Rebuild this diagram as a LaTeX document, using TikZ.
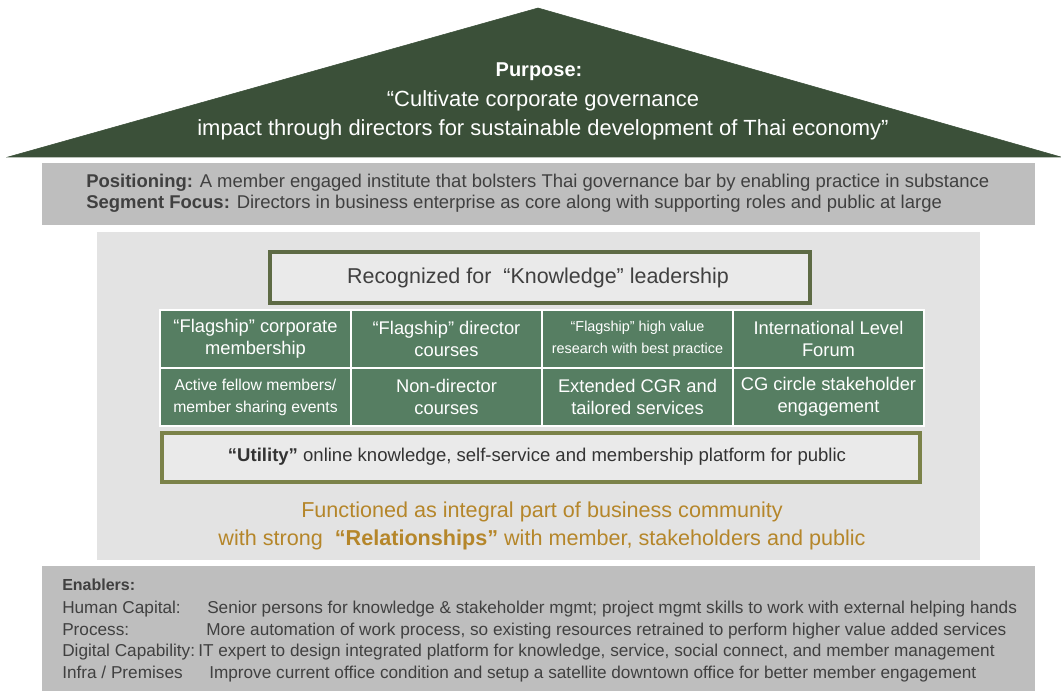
\documentclass[tikz,border=0pt]{standalone}
\usepackage{fontspec}
\setmainfont{Liberation Sans}
\usepackage{xcolor}
\definecolor{roofgreen}{HTML}{3B5039}
\definecolor{bandgray}{HTML}{BEBEBE}
\definecolor{panelgray}{HTML}{E3E3E3}
\definecolor{boxgray}{HTML}{EAEAEA}
\definecolor{cellgreen}{HTML}{567E62}
\definecolor{olivedark}{HTML}{5E6B45}
\definecolor{olivelight}{HTML}{7B8249}
\definecolor{goldtext}{HTML}{B5862A}
\definecolor{inkgray}{HTML}{404040}

\tikzset{
  cell/.style={draw=white, line width=1.5pt, fill=cellgreen, text=white,
    minimum width=143.25pt, minimum height=43.5pt, inner sep=0pt,
    align=center, font=\fontsize{13.75}{16.5}\selectfont},
  smallcell/.style={cell, font=\fontsize{10.8}{16.5}\selectfont},
  enabler/.style={anchor=base west, inner sep=0pt, text=inkgray,
    font=\fontsize{12.9}{15}\selectfont}
}

\begin{document}
\begin{tikzpicture}[x=0.75pt,y=0.75pt,yscale=-1,xscale=1]
\path [use as bounding box] (0,0) rectangle (1061,691);

%Shape: Triangle [roof]
\draw [fill=roofgreen, draw=roofgreen] (538,8) -- (1061,157) -- (8,157) -- cycle ;
%Shape: Rectangle [positioning band]
\fill [bandgray] (42,163) rectangle (1035,225) ;
%Shape: Rectangle [middle panel]
\fill [panelgray] (97,232) rectangle (980,560) ;
%Shape: Rectangle [enablers band]
\fill [bandgray] (42,566) rectangle (1035,691) ;

% Text Node
\draw (539,72) node [inner sep=0pt, text=white, font=\bfseries\fontsize{15}{18}\selectfont] (purpose) {Purpose:};
% Text Node
\draw (543,115) node [inner sep=0pt, text=white, align=center, font=\fontsize{16.45}{21.6}\selectfont] (mission) {“Cultivate corporate governance\\impact through directors for sustainable development of Thai economy”};

% Text Node
\draw (86,188) node [anchor=base west, inner sep=0pt, text=inkgray, font=\fontsize{13.85}{15}\selectfont] (positioning) {\textbf{Positioning:} A member engaged institute that bolsters Thai governance bar by enabling practice in substance};
% Text Node
\draw (86,209) node [anchor=base west, inner sep=0pt, text=inkgray, font=\fontsize{13.85}{15}\selectfont] (segment) {\textbf{Segment Focus:} Directors in business enterprise as core along with supporting roles and public at large};

%Shape: Rectangle [knowledge box]
\draw [draw=olivedark, line width=3pt, fill=boxgray] (270,252) rectangle (810,303) ;
% Text Node
\draw (538,278) node [inner sep=0pt, text=inkgray, font=\fontsize{16.1}{18}\selectfont] (knowledge) {Recognized for \ “Knowledge” leadership};

% Grid cells
\node [cell] (flagcorp) at (255.5,339) {“Flagship” corporate\\membership};
\node [cell] (flagdir) at (446.5,339) {“Flagship” director\\courses};
\node [smallcell] (flagres) at (637.5,339) {“Flagship” high value\\research with best practice};
\node [cell] (forum) at (828.5,339) {International Level\\Forum};
\node [smallcell, font=\fontsize{11.8}{16.5}\selectfont] (fellow) at (255.5,397) {Active fellow members/\\member sharing events};
\node [cell] (nondir) at (446.5,397) {Non-director\\courses};
\node [cell] (cgr) at (637.5,397) {Extended CGR and\\tailored services};
\node [cell] (circle) at (828.5,397) {CG circle stakeholder\\engagement};

%Shape: Rectangle [utility box]
\draw [draw=olivelight, line width=3pt, fill=boxgray] (162,433) rectangle (920,482) ;
% Text Node
\draw (537,457) node [inner sep=0pt, text=black!80, font=\fontsize{13.9}{15}\selectfont] (utility) {\textbf{“Utility”} online knowledge, self-service and membership platform for public};

% Text Node
\draw (542,526) node [inner sep=0pt, text=goldtext, align=center, font=\fontsize{16.2}{21}\selectfont] (relations) {Functioned as integral part of business community\\with strong \ \textbf{“Relationships”} with member, stakeholders and public};

% Enablers
\node [enabler, font=\bfseries\fontsize{12}{15}\selectfont] (enablers) at (62,590) {Enablers:};
\node [enabler] (hclabel) at (62,614) {Human Capital:};
\node [enabler] (hctext) at (207,614) {Senior persons for knowledge \& stakeholder mgmt; project mgmt skills to work with external helping hands};
\node [enabler] (prlabel) at (62,635) {Process:};
\node [enabler] (prtext) at (206,635) {More automation of work process, so existing resources retrained to perform higher value added services};
\node [enabler] (dclabel) at (62,656) {Digital Capability:};
\node [enabler] (dctext) at (198,656) {IT expert to design integrated platform for knowledge, service, social connect, and member management};
\node [enabler] (iplabel) at (62,678) {Infra / Premises};
\node [enabler] (iptext) at (209,678) {Improve current office condition and setup a satellite downtown office for better member engagement};

\end{tikzpicture}
\end{document}
